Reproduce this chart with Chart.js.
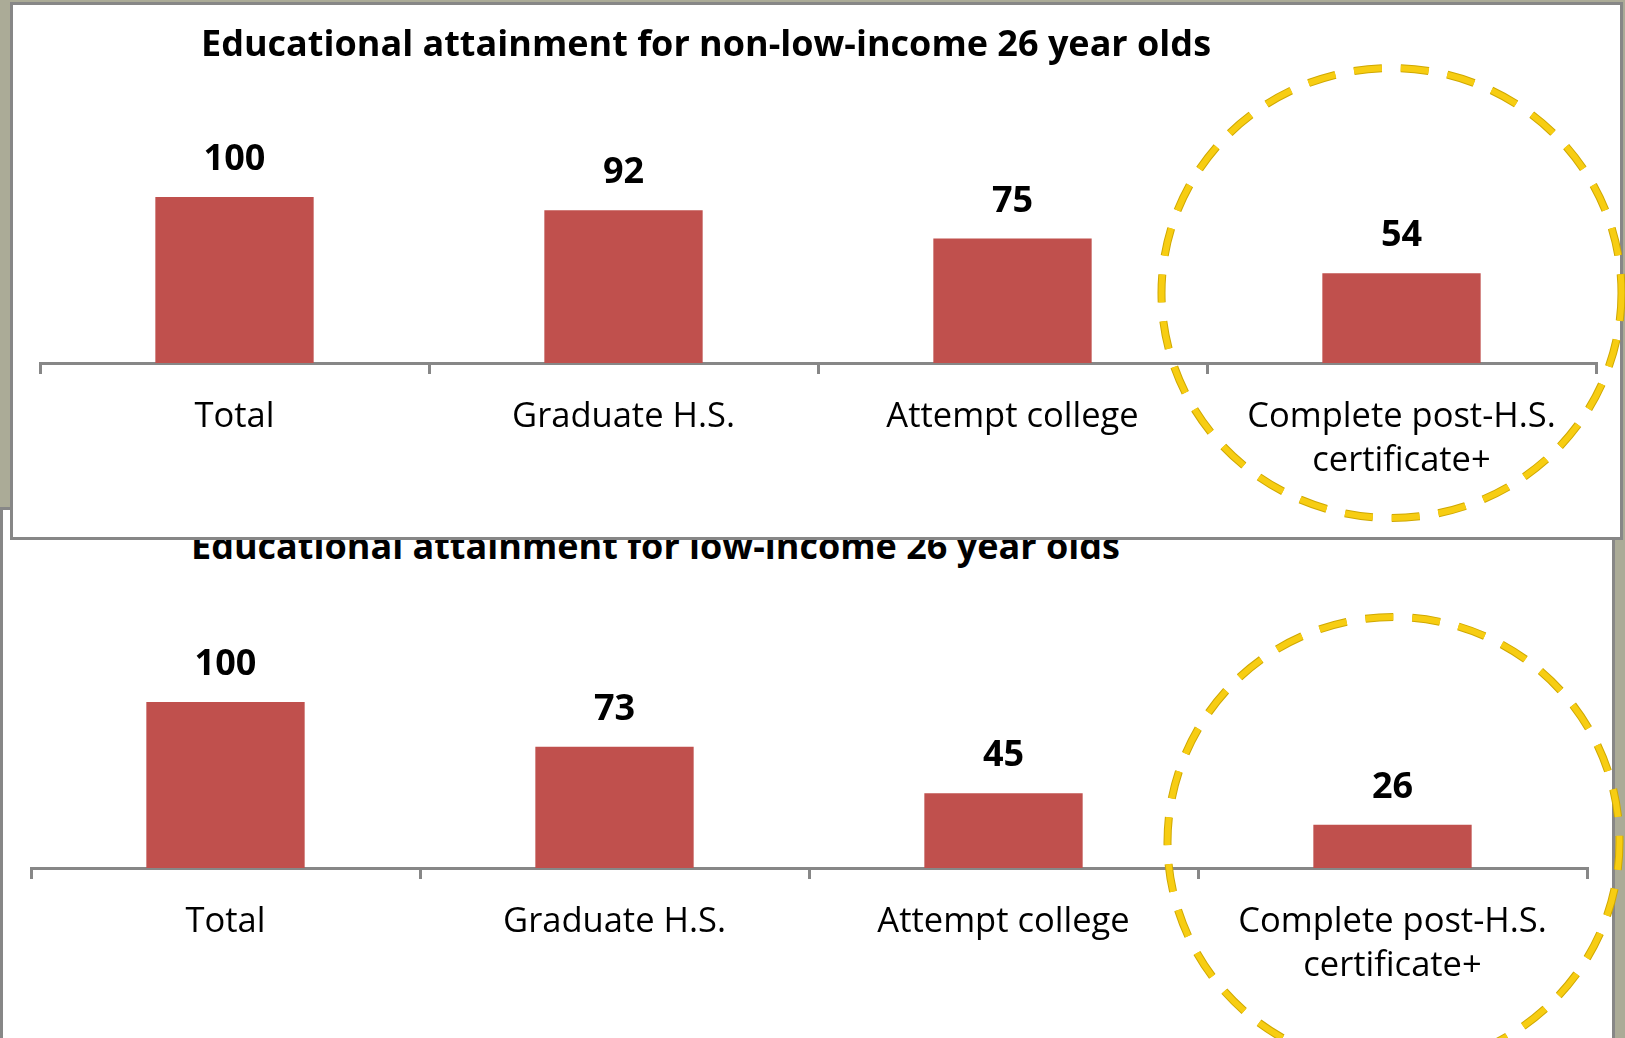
<!DOCTYPE html>
<html>
<head>
<meta charset="utf-8">
<script src="https://cdn.jsdelivr.net/npm/chart.js@4"></script>
<style>
  html, body { margin: 0; padding: 0; }
  body { width: 1625px; height: 1038px; background: #abab97; position: relative; overflow: hidden; font-family: "Open Sans", sans-serif; }
  .panel { position: absolute; background: #fff; border: 3px solid #878787; box-sizing: border-box; }
  #panelTop { left: 10px; top: 2px; width: 1613px; height: 538px; z-index: 3; }
  #panelBottom { left: 0; top: 507px; width: 1615px; height: 600px; z-index: 1; }
  .title { position: absolute; font-weight: bold; font-size: 36px; line-height: 40px; color: #000; white-space: nowrap; }
  #titleTop { left: 201px; top: 23px; z-index: 4; }
  #titleBottom { left: 191px; top: 526px; z-index: 2; }
  canvas { position: absolute; left: 0; }
  #chartTop { top: 0; z-index: 4; }
  #chartBottom { top: 508px; z-index: 2; }
</style>
</head>
<body>
<div class="panel" id="panelBottom"></div>
<div class="title" id="titleBottom">Educational attainment for low-income 26 year olds</div>
<canvas id="chartBottom" width="1625" height="530"></canvas>
<div class="panel" id="panelTop"></div>
<div class="title" id="titleTop">Educational attainment for non-low-income 26 year olds</div>
<canvas id="chartTop" width="1625" height="540"></canvas>

<script>
const categories = ["Total", "Graduate H.S.", "Attempt college", ["Complete post-H.S.", "certificate+"]];
const nonLowIncome = [100, 92, 75, 54];
const lowIncome = [100, 73, 45, 26];

const barRed = "#c0504d";
const axisGray = "#878787";

// value labels above the bars
const barLabels = {
  id: "barLabels",
  afterDatasetsDraw(chart) {
    const ctx = chart.ctx;
    const values = chart.data.datasets[0].data;
    ctx.save();
    ctx.font = 'bold 36px "Open Sans"';
    ctx.fillStyle = "#000";
    ctx.textAlign = "center";
    ctx.textBaseline = "alphabetic";
    chart.getDatasetMeta(0).data.forEach((bar, i) => {
      ctx.fillText(values[i], bar.x, bar.y - 27);
    });
    ctx.restore();
  }
};

// dashed yellow ring round the last category
const highlight = {
  id: "highlight",
  afterDraw(chart, args, opts) {
    const ctx = chart.ctx;
    const x = chart.scales.x.getPixelForValue(3) + opts.dx;
    const y = chart.scales.x.top + opts.dy;
    ctx.save();
    ctx.setLineDash([28, 19]);
    ctx.lineWidth = 8;
    ctx.strokeStyle = "#cfa800";
    ctx.beginPath();
    ctx.ellipse(x, y, opts.rx, opts.ry, 0, 0, Math.PI * 2);
    ctx.stroke();
    ctx.lineWidth = 6;
    ctx.strokeStyle = "#f7cd12";
    ctx.stroke();
    ctx.restore();
  }
};

function makeChart(id, values, pad, axisHeight, ring) {
  return new Chart(document.getElementById(id), {
    type: "bar",
    data: {
      labels: categories,
      datasets: [{
        data: values,
        backgroundColor: barRed,
        barPercentage: 0.407,
        categoryPercentage: 1
      }]
    },
    options: {
      responsive: false,
      animation: false,
      devicePixelRatio: 1,
      layout: { padding: pad },
      plugins: {
        legend: { display: false },
        tooltip: { enabled: false },
        title: { display: false },
        highlight: ring
      },
      scales: {
        x: {
          offset: true,
          grid: { display: true, offset: true, drawOnChartArea: false, drawTicks: true, tickLength: 11, color: axisGray, lineWidth: 3 },
          border: { display: true, color: axisGray, width: 3 },
          ticks: { color: "#000", font: { family: '"Open Sans"', size: 34.5, lineHeight: 1.27 }, padding: 21, maxRotation: 0, autoSkip: false },
          afterFit(scale) { scale.height = axisHeight; }
        },
        y: { display: false, min: 0, max: 100 }
      }
    },
    plugins: [barLabels, highlight]
  });
}

makeChart("chartTop", nonLowIncome, { left: 40, right: 29, top: 197, bottom: 0 }, 177, { dx: -10, dy: -70, rx: 230, ry: 225 });
makeChart("chartBottom", lowIncome, { left: 31, right: 38, top: 194, bottom: 0 }, 170, { dx: 1, dy: -26, rx: 226, ry: 225 });
</script>
</body>
</html>
